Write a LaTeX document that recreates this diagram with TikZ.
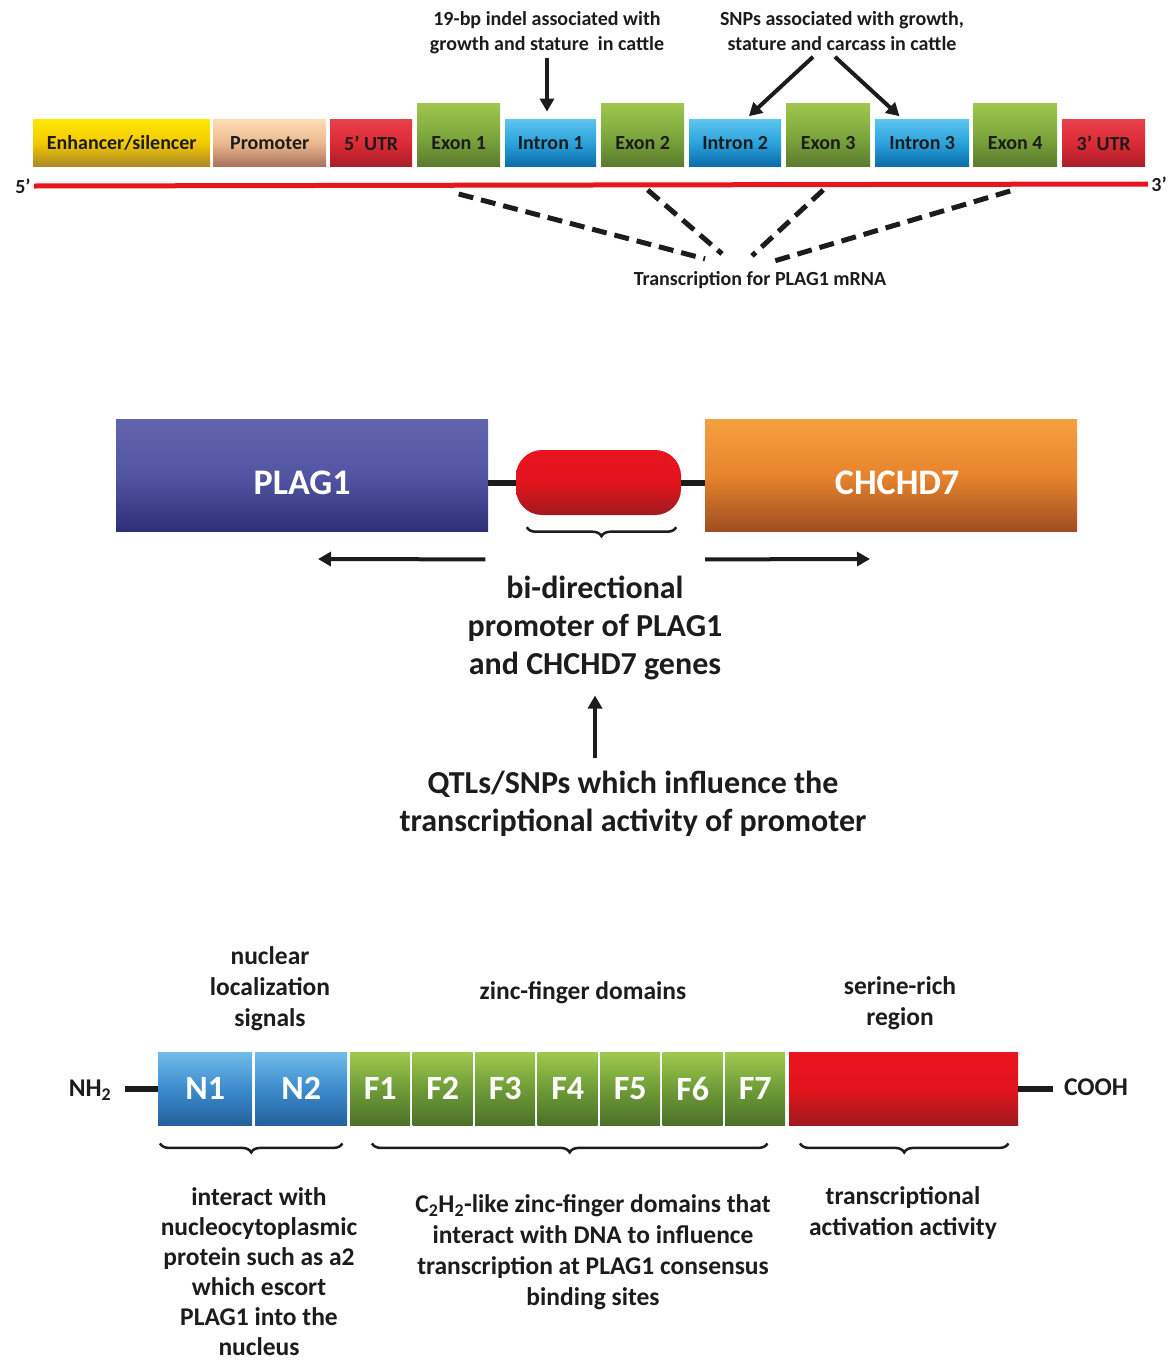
\documentclass[tikz,border=0pt]{standalone}
\usepackage{fontspec}
\setmainfont{Carlito}
\usetikzlibrary{arrows.meta,decorations.pathreplacing,positioning}

\definecolor{ink}{HTML}{1C1C1C}
\definecolor{dnared}{HTML}{E8141E}
\definecolor{yelT}{HTML}{FFE800}\definecolor{yelM}{HTML}{F2C800}\definecolor{yelB}{HTML}{A8862A}
\definecolor{pchT}{HTML}{FCDDB2}\definecolor{pchM}{HTML}{EBB88E}\definecolor{pchB}{HTML}{A8705A}
\definecolor{utrT}{HTML}{E8404A}\definecolor{utrM}{HTML}{DC2A36}\definecolor{utrB}{HTML}{A81E28}
\definecolor{intT}{HTML}{5CC4EE}\definecolor{intM}{HTML}{2AA2DC}\definecolor{intB}{HTML}{0A6AA6}
\definecolor{exT}{HTML}{9EC64E}\definecolor{exM}{HTML}{7EA83C}\definecolor{exB}{HTML}{5A7A2E}
\definecolor{plT}{HTML}{6265AD}\definecolor{plM}{HTML}{5255A2}\definecolor{plB}{HTML}{2E2F78}
\definecolor{chT}{HTML}{F4A040}\definecolor{chM}{HTML}{E8842C}\definecolor{chB}{HTML}{9E4E22}
\definecolor{rdT}{HTML}{E8141E}\definecolor{rdM}{HTML}{E2141E}\definecolor{rdB}{HTML}{A01A1E}
\definecolor{nT}{HTML}{72BCEA}\definecolor{nM}{HTML}{3C8CCC}\definecolor{nB}{HTML}{24609C}
\definecolor{fT}{HTML}{9ECA4E}\definecolor{fM}{HTML}{6E9C38}\definecolor{fB}{HTML}{4C7028}

\begin{document}
\begin{tikzpicture}[x=1pt,y=-1pt,
  every node/.style={text=ink},
  gbox/.style={anchor=south west, inner sep=0pt, minimum height=47pt,
    font=\bfseries\fontsize{20}{22}\selectfont},
  yel/.style={gbox, top color=yelT, bottom color=yelB, middle color=yelM},
  pch/.style={gbox, top color=pchT, bottom color=pchB, middle color=pchM},
  utr/.style={gbox, top color=utrT, bottom color=utrB, middle color=utrM},
  intr/.style={gbox, top color=intT, bottom color=intB, middle color=intM},
  exon/.style={gbox, minimum height=63pt, top color=exT, bottom color=exB, middle color=exM},
  extext/.style={yshift=-8pt, font=\bfseries\fontsize{20}{22}\selectfont},
  small/.style={font=\bfseries\fontsize{20}{25}\selectfont, align=center},
  big/.style={font=\bfseries\fontsize{32}{38}\selectfont, align=center},
  mid/.style={font=\bfseries\fontsize{25.5}{31}\selectfont, align=center},
  arr/.style={-{Triangle[length=13pt,width=14pt]}, line width=4pt, ink},
  dashln/.style={line width=5pt, dash pattern=on 15pt off 8pt, ink},
  gene/.style={anchor=north west, inner sep=0pt, minimum width=372pt, minimum height=112pt},
  gtext/.style={yshift=-8pt, text=white, font=\bfseries\fontsize{36}{38}\selectfont},
  brc/.style={decorate, decoration={brace, amplitude=9pt, mirror}, line width=2.5pt, ink},
  dom/.style={anchor=north west, inner sep=0pt, minimum height=73pt, text=white,
    font=\bfseries\fontsize{34}{36}\selectfont},
  nbox/.style={dom, top color=nT, bottom color=nB, middle color=nM},
  fbox/.style={dom, minimum width=60pt, top color=fT, bottom color=fB, middle color=fM},
  stub/.style={line width=6pt, ink}]
\useasboundingbox (0,0) rectangle (1170,1363);

% gene structure
\node[yel, minimum width=177pt] (enh) at (33,167) {Enhancer/silencer};
\node[pch, minimum width=113pt] (prm) at (213,167) {Promoter};
\node[utr, minimum width=82pt] (u5) at (330,167) {5’ UTR};
\node[exon, minimum width=83pt, label={[extext]center:Exon 1}] (ex1) at (417,167) {};
\node[intr, minimum width=91pt] (in1) at (505,167) {Intron 1};
\node[exon, minimum width=83pt, label={[extext]center:Exon 2}] (ex2) at (601,167) {};
\node[intr, minimum width=92pt] (in2) at (689,167) {Intron 2};
\node[exon, minimum width=84pt, label={[extext]center:Exon 3}] (ex3) at (786,167) {};
\node[intr, minimum width=94pt] (in3) at (875,167) {Intron 3};
\node[exon, minimum width=84pt, label={[extext]center:Exon 4}] (ex4) at (973,167) {};
\node[utr, minimum width=83pt] (u3) at (1062,167) {3’ UTR};

\node[small, inner sep=1pt] (p5) at (23,186) {5’};
\node[small, inner sep=1pt] (p3) at (1159,184) {3’};
\draw[line width=5pt, dnared] ([xshift=2pt]p5.east) -- ([xshift=-2pt]p3.west);

\node[small] (indel) at (547,33) {19-bp indel associated with\\growth and stature\ \ in cattle};
\node[small] (snp) at (842,31) {SNPs associated with growth,\\stature and carcass in cattle};
\draw[arr, shorten >=8pt] (indel.south) -- (indel.south |- in1.north);
\draw[arr, shorten <=4pt, shorten >=5pt] ([xshift=-26pt]snp.south) -- ([xshift=10pt]in2.north);
\draw[arr, shorten <=4pt, shorten >=5pt] ([xshift=-10pt]snp.south) -- ([xshift=-19pt]in3.north);

\node[small] (mrna) at (760,280) {Transcription for PLAG1 mRNA};
\draw[dashln] ([yshift=-27pt]ex1.south) -- ([xshift=-55pt,yshift=9pt]mrna.north);
\draw[dashln] ([xshift=5pt,yshift=-23pt]ex2.south) -- ([xshift=-38pt,yshift=14pt]mrna.north);
\draw[dashln] ([xshift=-5pt,yshift=-23pt]ex3.south) -- ([xshift=-8pt,yshift=12pt]mrna.north);
\draw[dashln] ([xshift=-5pt,yshift=-24pt]ex4.south) -- ([xshift=8pt,yshift=5pt]mrna.north);

% bi-directional promoter
\node[gene, top color=plT, bottom color=plB, middle color=plM,
  label={[gtext]center:PLAG1}] (plag) at (116,419) {};
\node[gene, top color=chT, bottom color=chB, middle color=chM,
  label={[gtext, xshift=6pt]center:CHCHD7}] (chchd) at (705,419) {};
\node[inner sep=0pt, minimum width=165pt, minimum height=65pt, rounded corners=26pt,
  top color=rdT, bottom color=rdB, middle color=rdM] (prom) at (598.5,482.5) {};
\draw[line width=6pt, ink] (prom.west -| plag.east) -- (prom.west);
\draw[line width=6pt, ink] (prom.east) -- (prom.east -| chchd.west);
\draw[brc] ([shift={(11,12)}]prom.south west) -- ([shift={(-5,12)}]prom.south east);

\coordinate (lend) at (318,559);
\coordinate (rend) at (870,559);
\draw[arr] ([shift={(-3,28)}]plag.south east) -- (lend);
\draw[arr] ([shift={(0,28)}]chchd.south west) -- (rend);

\node[big] (bidir) at (595,628) {bi-directional\\promoter of PLAG1\\and CHCHD7 genes};
\node[big] (qtl) at (633,804) {QTLs/SNPs which influence the\\transcriptional activity of promoter};
\draw[arr, shorten <=10pt, shorten >=12pt] (qtl.north -| bidir.south) -- (bidir.south);

% protein domains
\node[mid] (nls) at (270,989) {nuclear\\localization\\signals};
\node[mid] (znf) at (583,993) {zinc-finger domains};
\node[mid] (serl) at (900,1003) {serine-rich\\region};

\node[nbox, minimum width=94pt] (n1) at (158,1052) {N1};
\node[nbox, minimum width=92pt] (n2) at (255,1052) {N2};
\foreach \i in {1,...,7}
  \node[fbox] (f\i) at ({350+62.5*(\i-1)},1052) {F\i};
\node[dom, minimum width=229pt, top color=rdT, bottom color=rdB, middle color=rdM] (ser) at (789,1052) {};

\node[mid] (nh2) at (90,1090) {NH\textsubscript{2}};
\node[mid] (cooh) at (1096,1087) {COOH};
\draw[stub, shorten <=10pt] (nh2.east |- n1.west) -- (n1.west);
\draw[stub, shorten >=8pt] (ser.east) -- (ser.east -| cooh.west);

\draw[brc] ([shift={(2,18)}]n1.south west) -- ([shift={(-5,18)}]n2.south east);
\draw[brc] ([shift={(22,18)}]f1.south west) -- ([shift={(-18,18)}]f7.south east);
\draw[brc] ([shift={(11,18)}]ser.south west) -- ([shift={(-10,18)}]ser.south east);

\node[mid, inner sep=1pt, font=\bfseries\fontsize{25.5}{30}\selectfont] (desc1) at (259,1272) {interact with\\nucleocytoplasmic\\protein such as a2\\which escort\\PLAG1 into the\\nucleus};
\node[mid] (desc2) at (593,1252) {C\textsubscript{2}H\textsubscript{2}-like zinc-finger domains that\\interact with DNA to influence\\transcription at PLAG1 consensus\\binding sites};
\node[mid] (desc3) at (903,1213.5) {transcriptional\\activation activity};

\end{tikzpicture}
\end{document}
